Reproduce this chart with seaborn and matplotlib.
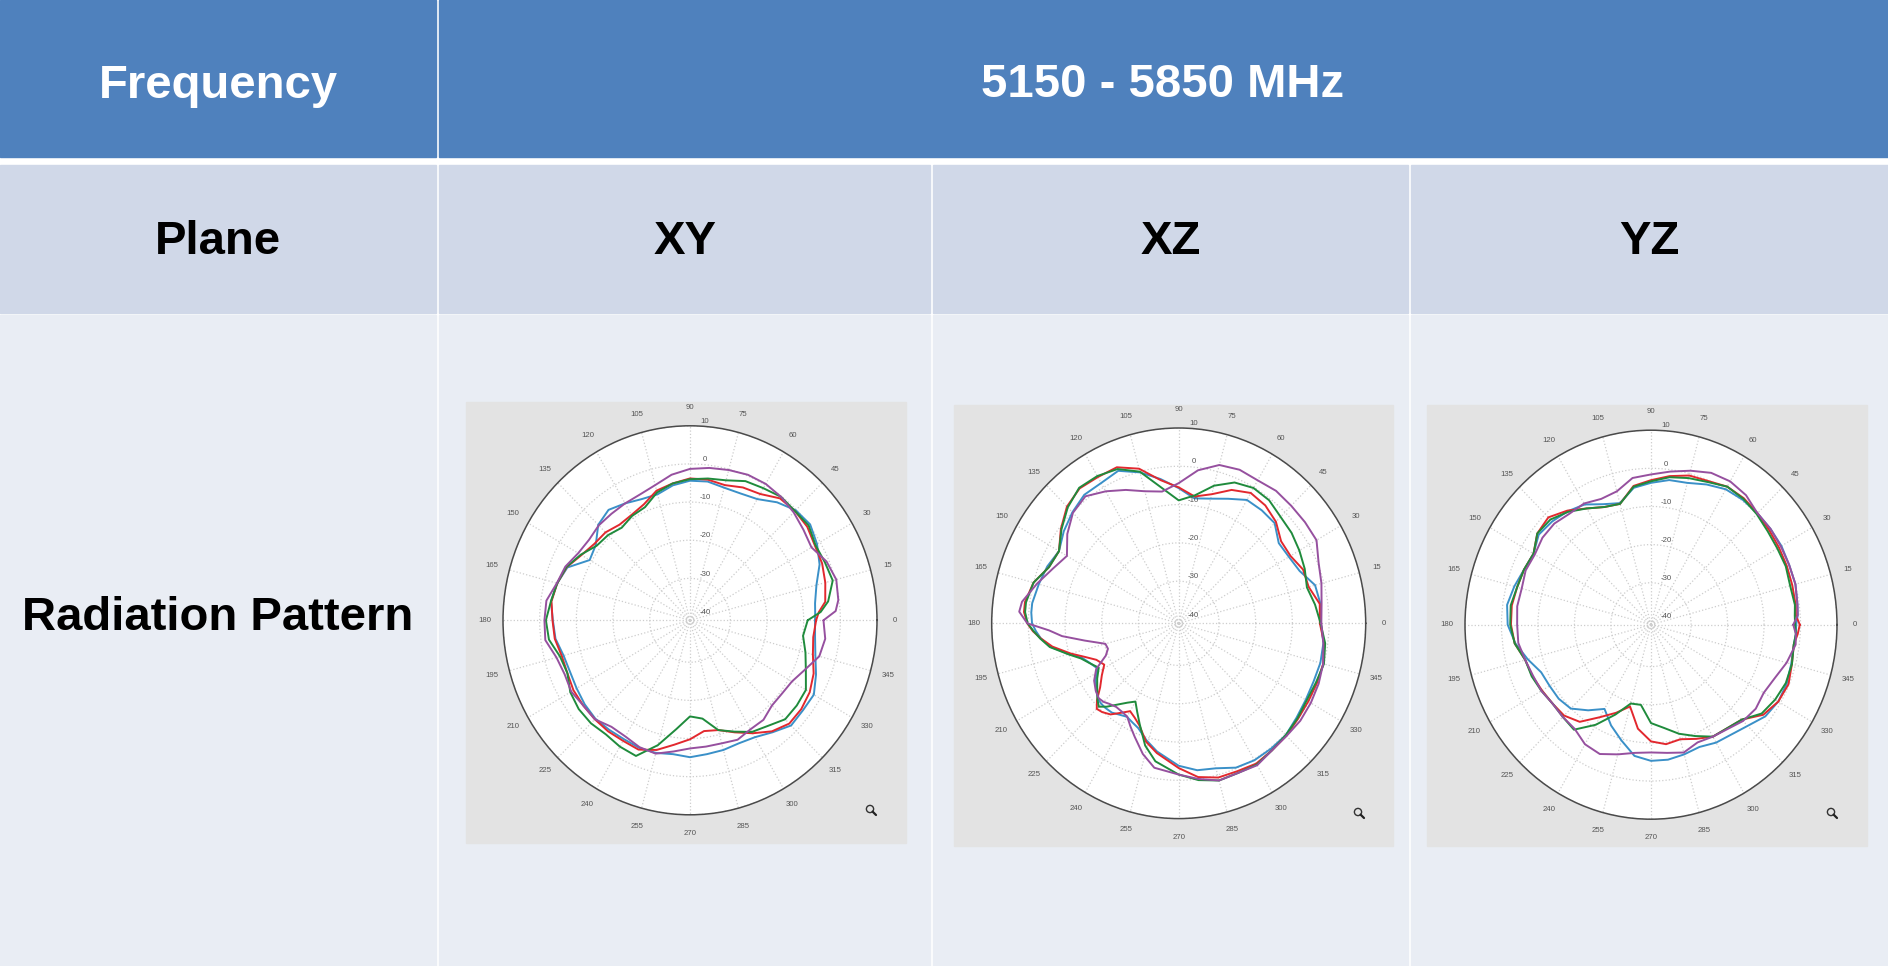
import numpy as np
import pandas as pd
import seaborn as sns
import matplotlib.pyplot as plt
from matplotlib.patches import Circle, Rectangle

# --- header text ---
row_labels = ["Frequency", "Plane", "Radiation Pattern"]
freq_label = "5150 - 5850 MHz"
plane_labels = ["XY", "XZ", "YZ"]

# --- polar axis labels ---
angle_ticks = list(range(0, 360, 15))
db_ticks = [-40, -30, -20, -10, 0, 10]

# --- XY plane (deg, dB) ---
xy_deg = [0, 3.5, 7.5, 15, 22.5, 30, 37.5, 45, 52.5, 60, 67.5, 75, 82.5, 90, 97.5, 105, 112.5, 120, 127.5, 135, 142.5, 150, 157.5,
          165, 172.5, 180, 187.5, 195, 202.5, 210, 217.5, 225, 232.5, 240, 247.5, 255, 262.5, 270, 277.5, 285, 292.5, 300, 307.5, 315, 322.5, 330, 337.5, 345, 352.5]
xy_blue = [-6.9, -6.8, -6.6, -5.3, -2.75, -1, .3, -.2, -2, -4.3, -5, -5, -4.3, -4.4, -5.3, -6.8, -6.6, -5.6, -4.5, -5.6, -8.6, -9.4, -4.8,
           -3.5, -2.75, -3.6, -4, -5.3, -5.6, -5.3, -4.8, -4.5, -4.8, -5, -4.8, -5, -5.6, -5.1, -5.6, -5.8, -6.1, -5.6, -4, -2, -2.2, -2, -3.8, -5.6, -6.6]
xy_red = [-6.6, -5.8, -3.8, -2.8, -2, -1.7, -.7, -.5, -.7, -2.75, -3.3, -4.3, -3.8, -3.8, -4.8, -5.8, -8.1, -9.1, -9.4, -8.4, -8.1, -6.8, -4.6,
          -3.5, -2.9, -3.5, -3.8, -4.8, -4.8, -4.3, -4.3, -4.3, -4.3, -4.5, -4.3, -5.8, -8.1, -9.8, -11.7, -11.2, -9.2, -6.8, -4.3, -2.7, -2.75, -3.3, -4.5, -6.3, -7.1]
xy_green = [-8.9, -5.3, -3, -.7, -1.2, -1.5, -.2, -.5, -.2, -1, -1.5, -3, -3.5, -4, -4.8, -6.3, -8.9, -9.4, -10.4, -9.4, -8.9, -6.6, -4.5,
            -3.5, -2.75, -1.7, -2.2, -4.3, -4.8, -3.3, -2.75, -2.8, -3.3, -2.75, -2.5, -7.1, -12.2, -15.8, -15, -11.2, -9.4, -7.2, -6.1, -4.3, -4.3, -4.5, -6.8, -8.4, -9.9]
xy_purple = [-4.6, -1.2, -.2, .3, -.7, -2.75, -2, -1, -.2, .3, .3, -.2, -.7, -1.3, -2.5, -4.3, -5.3, -5.6, -5.8, -5.8, -6.3, -5.8, -4.2,
             -3.4, -1.5, -1.3, -1.2, -3.3, -4, -3.6, -4.3, -4.3, -5.8, -5.8, -5, -4.8, -6.3, -7.4, -7.6, -7.6, -7.1, -8, -8.1, -9.4, -9.4, -8.9, -7.1, -4.5, -3.8]

# --- XZ plane ---
xz_deg = [0, 7.5, 15, 22.5, 30, 37.5, 45, 52.5, 60, 67.5, 75, 82.5, 90, 97.5, 105, 112.5, 120, 127.5, 135, 142.5, 150, 157.5, 165, 172.5, 176, 180,
          183, 186, 190, 195, 199, 203, 208, 213, 218, 222, 225, 228, 232, 236, 240, 244, 248, 254, 260, 270, 277.5, 285, 292.5, 300, 307.5, 315, 322.5, 330, 337.5, 345, 352.5]
xz_blue = [-2.2, -2, -2.5, -5.3, -6.3, -6.6, -4, -3.8, -3.8, -5.8, -7.3, -8.1, -5.7, -3, -.2, 2.1, 1.3, 1.3, 0, -1.5, -3.3, -2.2, -1.5, -.7, -.7, -1,
           -2, -3.2, -5.5, -10, -13.2, -14.6, -15.9, -14, -12.5, -11.4, -11.2, -11.2, -11.4, -12.2, -12.8, -12.2, -11.5, -9.2, -7, -3.8, -2.3, -1.8, -.2, .3, .3, .3, -.5, -1, -1.2, -1, -1.2]
xz_red = [-2.5, -2.2, -4.3, -4.3, -5.8, -5.8, -3.5, -2.2, -1.7, -3.3, -6.1, -7.6, -5.5, -3.3, .8, 3.1, 3.1, 3.4, 2.1, -.5, -3.3, -2.7, 0, 1.3, 1.3, .3,
          -1.2, -3.2, -6, -10.5, -14, -16.6, -18, -16, -13.8, -11, -9.4, -9.8, -10.8, -12.8, -14.5, -13.6, -12.3, -8.8, -6.6, -3.2, -.5, .7, .8, 1.3, .8, .5, 0, -.2, -.2, -.2, -1]
xz_green = [-2.3, -3.5, -4.8, -3.8, -3, -2.2, -1.7, -.5, -.2, -1.2, -3.8, -7.3, -8.9, -5.3, 0, 2.6, 3.4, 3.6, 1.8, -.7, -3.3, -2.7, 0, 1, 1, .2,
            -1.4, -3, -5.3, -9.8, -12.8, -14.5, -16.3, -14.5, -12.8, -11.2, -10.2, -11.7, -14.1, -16, -17.4, -15.2, -12.6, -7.8, -4.4, -1.5, .3, 1.5, 1.3, 1.6, .8, .3, -.2, -.7, -.5, 0, -.7]
xz_purple = [-2.1, -1.7, -.7, .3, 2.4, 2.4, 2.4, 2.6, 2.1, 2.4, 1.8, -.7, -4.4, -6.3, -5.3, -3.3, -1.2, .8, -.2, -2.7, -5.8, -3.8, -1, 2.1, 2.6, .3,
             -5.6, -9, -15, -20.3, -20.6, -19.4, -15.5, -13.5, -12.3, -11.7, -12, -12.7, -13.3, -13.2, -12.9, -11, -9, -5.5, -2.7, -1.5, 0, 1.5, 1.3, 1.8, .8, .6, .8, .6, .3, -.2, -1.2]

# --- YZ plane ---
yz_deg = [0, 3.5, 7.5, 15, 22.5, 30, 37.5, 45, 52.5, 60, 67.5, 75, 82.5, 90, 97.5, 105, 112.5, 120, 127.5, 135, 142.5, 150, 157.5, 165, 172.5, 180, 187.5,
          195, 202.5, 210, 217.5, 225, 232.5, 240, 247.5, 255, 262.5, 270, 277.5, 285, 292.5, 300, 315, 322.5, 330, 337.5, 345, 352.5, 356.5]
yz_blue = [-1.2, -.7, -.5, 0, 0, .3, .3, .3, .3, 0, -1.2, -2.5, -2.75, -3.8, -4.8, -8, -6.8, -4.6, -3.5, -2.7, -2.2, -3.8, -3.3, -2.2, -1.2, -1.7, -3.5,
           -6, -8.4, -8.9, -9.1, -9.9, -12.7, -15.5, -12.4, -9.6, -6.3, -5.3, -5.3, -5.8, -6.3, -5.3, -3.5, -1.5, -.7, -.7, -1.2, -1.5, -1.2]
yz_red = [-.2, -1.2, -1, -.9, -.7, -.5, -.2, .3, .8, .8, -.2, -.5, -1.7, -3.1, -4.3, -8.2, -7.6, -5.8, -3.3, -1.2, -1.7, -3.8, -3.3, -3, -2.5, -2.6, -3.3,
          -5.3, -5.8, -6.5, -7, -7.3, -8.9, -13, -16, -18.8, -13.5, -10.4, -9.4, -9.9, -8.6, -7.1, -5.8, -2.2, -.7, -.2, -1, -1.5, -.7]
yz_green = [-1.5, -1.5, -1.2, -1.5, -1, -1, -.7, 0, .6, .8, -.5, -1.2, -2, -3.4, -4.5, -8.2, -7.6, -5.8, -3.7, -2, -1.7, -3.8, -3.3, -3, -2.2, -2.4, -3.3,
            -5.3, -5.6, -6.3, -7, -6.8, -6.3, -10.7, -15.5, -19.6, -19.8, -15.2, -13.7, -11.4, -9.4, -7.1, -5.8, -2.75, -1.7, -1, -1, -1.5, -1.2]
yz_purple = [-2, -.7, -.5, 0, 0, .1, .3, .3, 1.8, 2.4, 2.1, .8, -.5, -1.6, -2.2, -4.8, -5.3, -4.3, -4.3, -3.5, -3.5, -4.2, -3.8, -4.3, -4, -4.3, -4.3,
             -5.3, -6, -6.3, -7, -6.8, -6.6, -4.8, -4.3, -5.8, -7.1, -7.5, -7.1, -6.3, -7.6, -7.1, -5.3, -4.8, -5.3, -4.3, -2.5, -1, -1.2]

series_names = ["blue", "red", "green", "purple"]
palette = {"blue": "#3A90C8", "red": "#E2282E", "green": "#1F8B3C", "purple": "#96509F"}

panels = [
    (xy_deg, [xy_blue, xy_red, xy_green, xy_purple]),
    (xz_deg, [xz_blue, xz_red, xz_green, xz_purple]),
    (yz_deg, [yz_blue, yz_red, yz_green, yz_purple]),
]

W, H = 1888, 966
sns.set_theme(style="white")
plt.rcParams["font.family"] = ["Liberation Sans", "DejaVu Sans"]

fig = plt.figure(figsize=(W / 100, H / 100), dpi=100)

# full-figure axes in pixel units for the table background
bg = fig.add_axes([0, 0, 1, 1])
bg.set_xlim(0, W)
bg.set_ylim(H, 0)
bg.axis("off")

HEADER, ROW2, ROW3 = "#4F81BD", "#D0D8E8", "#E9EDF4"
col_x = [0, 437, 931, 1409, W]
bg.add_patch(Rectangle((0, 0), W, H, color="white"))
bg.add_patch(Rectangle((0, 0), 436, 157, color=HEADER))
bg.add_patch(Rectangle((439, 0), W - 439, 157, color=HEADER))
for i in range(4):
    x0 = col_x[i] + (2 if i else 0)
    x1 = col_x[i + 1] - (1 if i < 3 else 0)
    bg.add_patch(Rectangle((x0, 165), x1 - x0, 148, color=ROW2))
    bg.add_patch(Rectangle((x0, 315), x1 - x0, H - 315, color=ROW3))

title_kw = dict(ha="center", va="center", fontsize=34, fontweight="bold")
bg.text(218, 86, row_labels[0], color="white", **title_kw)
bg.text(1163, 85, freq_label, color="white", **title_kw)
bg.text(218, 242, row_labels[1], color="black", **title_kw)
bg.text(218, 618, row_labels[2], color="black", **title_kw)
for cx, name in zip([685, 1171, 1649], plane_labels):
    bg.text(cx, 242, name, color="black", **title_kw)

# gray squares behind the polar plots, then centre and radii of each plot
squares = [(466, 402, 440, 441), (954, 405, 439, 441), (1427, 405, 440, 441)]
centers = [(690, 620.3, 187, 194.5), (1178.7, 623.3, 187, 195.3), (1651, 624.7, 186, 194.5)]
R_MIN, R_MAX = -41, 10

for (deg, curves), sq, (cx, cy, rx, ry) in zip(panels, squares, centers):
    bg.add_patch(Rectangle(sq[:2], sq[2], sq[3], color="#E3E3E3"))

    ax = fig.add_axes([(cx - rx) / W, 1 - (cy + ry) / H, 2 * rx / W, 2 * ry / H], projection="polar")
    ax.set_aspect("auto")
    ax.set_facecolor("white")

    frames = []
    for name, vals in zip(series_names, curves):
        frames.append(pd.DataFrame({
            "theta": np.radians(list(deg) + [360]),
            "db": list(vals) + [vals[0]],
            "series": name,
        }))
    df = pd.concat(frames, ignore_index=True)
    sns.lineplot(data=df, x="theta", y="db", hue="series", palette=palette, hue_order=series_names,
                 units="series", estimator=None, sort=False, legend=False, lw=1.4, ax=ax)
    for line in ax.get_lines():
        line.set_solid_joinstyle("round")

    ax.set_xlabel("")
    ax.set_ylabel("")
    ax.set_ylim(R_MIN, R_MAX)
    ax.set_xticks(np.radians(angle_ticks))
    ax.set_xticklabels([])
    ax.set_yticks(db_ticks)
    ax.set_yticklabels([])
    ax.grid(True, color="#CDCDCD", linestyle=":", linewidth=0.9)
    ax.tick_params(axis="x", direction="in", length=3, width=0.8, color="#444444")
    ax.spines["polar"].set_color("#4A4A4A")
    ax.spines["polar"].set_linewidth(1.1)

    # angle labels just outside the ring
    for a in angle_ticks:
        ax.text(np.radians(a), R_MIN + (R_MAX - R_MIN) * 1.095, str(a), ha="center", va="center",
                fontsize=5.6, color="#555555", clip_on=False)
    # dB labels next to the 90 degree spoke
    for d in db_ticks:
        ax.annotate(str(d), xy=(np.pi / 2, d), xytext=(10.8, 3.1), textcoords="offset points",
                    ha="center", va="center", fontsize=5.6, color="#555555", annotation_clip=False)

    # zoom icon in the lower right corner
    ix, iy = sq[0] + 404, sq[1] + 407
    bg.add_patch(Circle((ix, iy), 3.6, fill=False, ec="#333333", lw=1.0))
    bg.plot([ix + 2.6, ix + 6], [iy + 2.6, iy + 6], color="#222222", lw=1.6)

bg.set_xlim(0, W)
bg.set_ylim(H, 0)
fig.savefig("out.png", dpi=100)
